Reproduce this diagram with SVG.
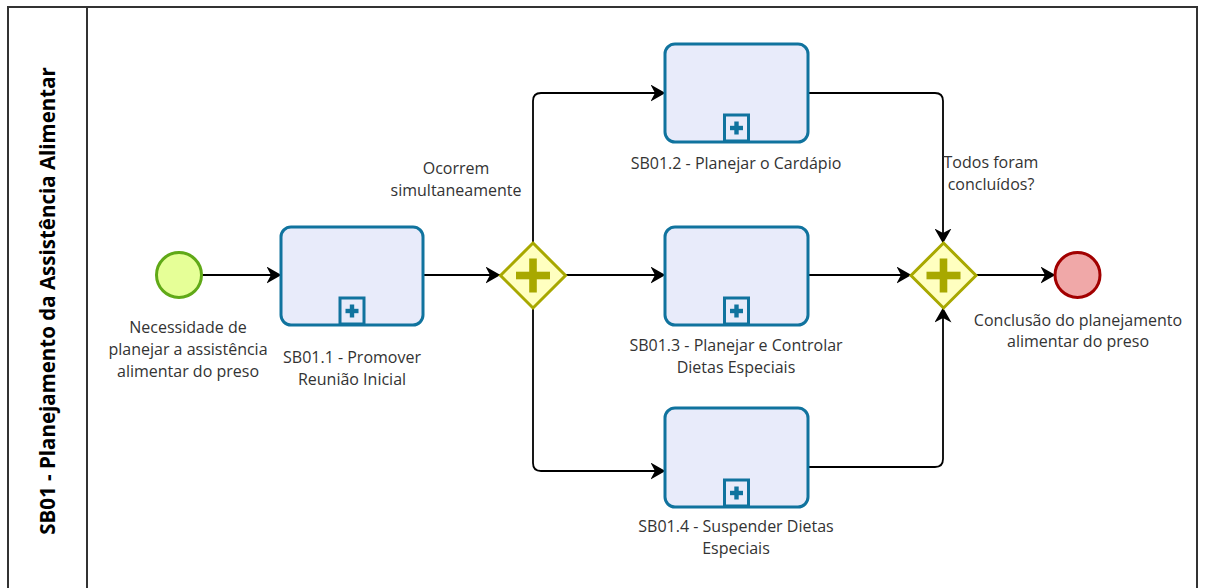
<svg xmlns="http://www.w3.org/2000/svg" width="1205" height="588" viewBox="0 0 1205 588">
  <defs>
    <marker id="arrow" viewBox="0 0 15 17" refX="14.5" refY="8.5" markerWidth="15" markerHeight="17" markerUnits="userSpaceOnUse" orient="auto">
      <path d="M0,0 L15,8.5 L0,17 L4.5,8.5 z" fill="#000"/>
    </marker>
    <g id="subMarker">
      <rect x="-12" y="-27" width="24" height="26" fill="#e8ebfa" stroke="#10739e" stroke-width="3"/>
      <rect x="-2.2" y="-20.5" width="4.4" height="13" fill="#10739e"/>
      <rect x="-6.5" y="-16.2" width="13" height="4.4" fill="#10739e"/>
    </g>
    <g id="parallel">
      <polygon points="0,-32.5 32.5,0 0,32.5 -32.5,0" fill="#ffffc0" stroke="#a8a800" stroke-width="3"/>
      <rect x="-3.8" y="-17" width="7.6" height="34" fill="#a8a800"/>
      <rect x="-17" y="-3.8" width="34" height="7.6" fill="#a8a800"/>
    </g>
  </defs>
  <style>
    .lbl { font-family: "Open Sans", "Liberation Sans", sans-serif; font-size: 16px; fill: #333; text-anchor: middle; }
    .task { fill: #e8ebfa; stroke: #10739e; stroke-width: 3; }
    .flow { fill: none; stroke: #000; stroke-width: 1.8; marker-end: url(#arrow); }
    .pool { fill: none; stroke: #333; stroke-width: 2; }
  </style>

  <!-- pool / lane frame -->
  <g id="pool">
    <rect class="pool" x="8" y="7" width="1189" height="600"/>
    <line class="pool" x1="87" y1="7" x2="87" y2="588"/>
    <text transform="translate(55,301) rotate(-90)" style="font-family:'Open Sans','Liberation Sans',sans-serif;font-size:20.5px;font-weight:bold;fill:#000;text-anchor:middle">SB01 - Planejamento da Assistência Alimentar</text>
  </g>

  <!-- sequence flows -->
  <g id="connectors">
    <path class="flow" d="M201,275 H281"/>
    <path class="flow" d="M423,275 H500"/>
    <path class="flow" d="M533,243 V101 Q533,93 541,93 H665"/>
    <path class="flow" d="M566,275 H665"/>
    <path class="flow" d="M533,308 V463 Q533,471 541,471 H665"/>
    <path class="flow" d="M808,93 H935 Q943,93 943,101 V243"/>
    <path class="flow" d="M808,275 H911"/>
    <path class="flow" d="M808,467 H935 Q943,467 943,459 V308"/>
    <path class="flow" d="M976,275 H1055"/>
  </g>

  <g id="start">
    <circle cx="179" cy="275" r="22.5" fill="#e6ff97" stroke="#60a917" stroke-width="3"/>
    <text class="lbl"><tspan x="188" y="333">Necessidade de</tspan><tspan x="188" y="355">planejar a assistência</tspan><tspan x="188" y="377">alimentar do preso</tspan></text>
  </g>

  <g id="task1">
    <rect class="task" x="281" y="227" width="142" height="98" rx="10"/>
    <use href="#subMarker" x="352" y="325"/>
    <text class="lbl"><tspan x="352" y="363">SB01.1 - Promover</tspan><tspan x="352" y="385">Reunião Inicial</tspan></text>
  </g>

  <g id="split">
    <use href="#parallel" x="533" y="275.5"/>
    <text class="lbl"><tspan x="456" y="174">Ocorrem</tspan><tspan x="456" y="196">simultaneamente</tspan></text>
  </g>

  <g id="task2">
    <rect class="task" x="665" y="44" width="143" height="98" rx="10"/>
    <use href="#subMarker" x="736.5" y="142"/>
    <text class="lbl"><tspan x="736" y="169">SB01.2 - Planejar o Cardápio</tspan></text>
  </g>

  <g id="task3">
    <rect class="task" x="665" y="227" width="143" height="98" rx="10"/>
    <use href="#subMarker" x="736.5" y="325"/>
    <text class="lbl"><tspan x="736" y="351">SB01.3 - Planejar e Controlar</tspan><tspan x="736" y="373">Dietas Especiais</tspan></text>
  </g>

  <g id="task4">
    <rect class="task" x="665" y="408" width="143" height="99" rx="10"/>
    <use href="#subMarker" x="736.5" y="507"/>
    <text class="lbl"><tspan x="736" y="532">SB01.4 - Suspender Dietas</tspan><tspan x="736" y="554">Especiais</tspan></text>
  </g>

  <g id="join">
    <use href="#parallel" x="943.5" y="275.5"/>
    <text class="lbl"><tspan x="991" y="168">Todos foram</tspan><tspan x="991" y="190">concluídos?</tspan></text>
  </g>

  <g id="end">
    <circle cx="1077.5" cy="275" r="22.5" fill="#f0a8a8" stroke="#a20000" stroke-width="3"/>
    <text class="lbl"><tspan x="1078" y="326">Conclusão do planejamento</tspan><tspan x="1078" y="347">alimentar do preso</tspan></text>
  </g>
</svg>
